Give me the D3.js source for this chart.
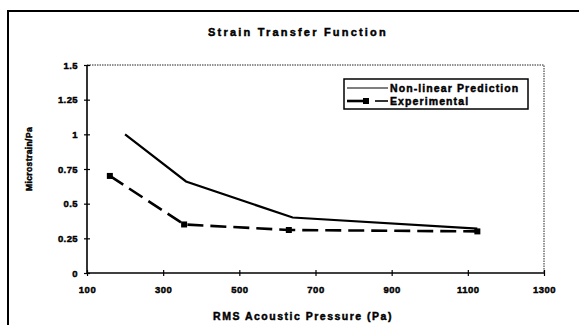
<!DOCTYPE html>
<html>
<head>
<meta charset="utf-8">
<script src="https://cdnjs.cloudflare.com/ajax/libs/d3/7.8.5/d3.min.js"></script>
<style>
  body { margin: 0; background: #fff; }
  text { font-family: "Liberation Sans", Arial, sans-serif; font-weight: bold; fill: #000; }
</style>
</head>
<body>
<script>

var xTicks = [100, 300, 500, 700, 900, 1100, 1300];
var yTicks = [0, 0.25, 0.5, 0.75, 1, 1.25, 1.5];
var yTickLabels = ["0", "0.25", "0.5", "0.75", "1", "1.25", "1.5"];

var nonlinearX = [200, 360, 640, 1125];
var nonlinearY = [1.0, 0.66, 0.4, 0.32];

var experimentalX = [160, 355, 630, 1125];
var experimentalY = [0.70, 0.35, 0.31, 0.30];

var seriesNames = ["Non-linear Prediction", "Experimental"];

var canvas = d3.select("body")
    .append("svg")
    .attr("width", 579).attr("height", 325);

// outer chart frame
canvas.append("rect")
    .attr("x", 8).attr("y", 11)
    .attr("width", 600).attr("height", 340)
    .attr("fill", "none")
    .attr("stroke", "#000")
    .attr("stroke-width", 2);

var x = d3.scaleLinear().domain([100, 1300]).range([87, 544]);
var y = d3.scaleLinear().domain([0, 1.5]).range([273, 65]);

// plot area border (dotted top/right)
canvas.append("path")
    .attr("d", "M" + x(100) + "," + y(1.5) + "H" + x(1300) + "V" + y(0))
    .attr("fill", "none")
    .attr("stroke", "#222")
    .attr("stroke-width", 1)
    .attr("stroke-dasharray", "1.5,1");

function boldText(sel, size, spacing) {
    sel.attr("font-size", size + "px")
        .attr("letter-spacing", spacing + "px")
        .attr("stroke", "#000")
        .attr("stroke-width", 0.45)
        .style("font-family", "Liberation Sans, Arial, sans-serif")
        .style("font-weight", "bold");
}

var xAxis = canvas.append("g")
    .attr("transform", "translate(0," + y(0) + ")")
    .call(d3.axisBottom(x).tickValues(xTicks).tickSize(3).tickFormat(d3.format("d")));
xAxis.selectAll(".tick line").attr("y1", -3).attr("y2", 3).attr("stroke-width", 1.2);
xAxis.selectAll(".domain").attr("d", "M" + x(100) + ",0H" + x(1300)).attr("stroke-width", 1.6);
xAxis.selectAll("text").attr("y", 13).call(boldText, 9.5, 0.5);

var yAxis = canvas.append("g")
    .attr("transform", "translate(" + x(100) + ",0)")
    .call(d3.axisLeft(y).tickValues(yTicks).tickSize(3)
        .tickFormat(function (d, i) { return yTickLabels[i]; }));
yAxis.selectAll(".tick line").attr("x1", -3).attr("x2", 3).attr("stroke-width", 1.2);
yAxis.selectAll(".domain").attr("d", "M0," + y(0) + "V" + y(1.5)).attr("stroke-width", 1.6);
yAxis.selectAll("text").attr("x", -9).call(boldText, 9.5, 0.4);

var line = d3.line()
    .x(function (d) { return x(d[0]); })
    .y(function (d) { return y(d[1]); });

var nonlinear = nonlinearX.map(function (v, i) { return [v, nonlinearY[i]]; });
var experimental = experimentalX.map(function (v, i) { return [v, experimentalY[i]]; });

canvas.append("path")
    .datum(nonlinear)
    .attr("d", line)
    .attr("fill", "none")
    .attr("stroke", "#000")
    .attr("stroke-width", 2.2);

canvas.append("path")
    .datum(experimental)
    .attr("d", line)
    .attr("fill", "none")
    .attr("stroke", "#000")
    .attr("stroke-width", 2.6)
    .attr("stroke-dasharray", "16,7");

canvas.selectAll("rect.data")
    .data(experimental)
    .enter()
    .append("rect")
    .attr("class", "data")
    .attr("x", function (d) { return x(d[0]) - 3; })
    .attr("y", function (d) { return y(d[1]) - 3; })
    .attr("width", 6).attr("height", 6)
    .attr("fill", "#000");

// titles
canvas.append("text")
    .text("Strain Transfer Function")
    .attr("x", 298).attr("y", 36)
    .attr("text-anchor", "middle")
    .call(boldText, 11, 2.2);

canvas.append("text")
    .text("RMS Acoustic Pressure (Pa)")
    .attr("x", 303).attr("y", 320)
    .attr("text-anchor", "middle")
    .call(boldText, 10.5, 1.5);

canvas.append("text")
    .text("Microstrain/Pa")
    .attr("transform", "translate(32,159) rotate(-90)")
    .attr("text-anchor", "middle")
    .call(boldText, 8.5, 0.4);

// legend
var legend = canvas.append("g").attr("transform", "translate(344,79)");
legend.append("rect")
    .attr("width", 184).attr("height", 30)
    .attr("fill", "#fff")
    .attr("stroke", "#000")
    .attr("stroke-width", 1.5);

legend.append("line")
    .attr("x1", 3).attr("x2", 44).attr("y1", 9).attr("y2", 9)
    .attr("stroke", "#000").attr("stroke-width", 1.2);
legend.append("line")
    .attr("x1", 3).attr("x2", 20).attr("y1", 22).attr("y2", 22)
    .attr("stroke", "#000").attr("stroke-width", 2.6);
legend.append("rect")
    .attr("x", 19).attr("y", 19).attr("width", 6).attr("height", 6)
    .attr("fill", "#000");
legend.append("line")
    .attr("x1", 31).attr("x2", 44).attr("y1", 22).attr("y2", 22)
    .attr("stroke", "#000").attr("stroke-width", 1.6);

legend.selectAll("text.legend")
    .data(seriesNames)
    .enter()
    .append("text")
    .attr("class", "legend")
    .text(function (d) { return d; })
    .attr("x", 46)
    .attr("y", function (d, i) { return 13 + i * 13; })
    .call(boldText, 10.5, 1.1);

</script>
</body>
</html>
